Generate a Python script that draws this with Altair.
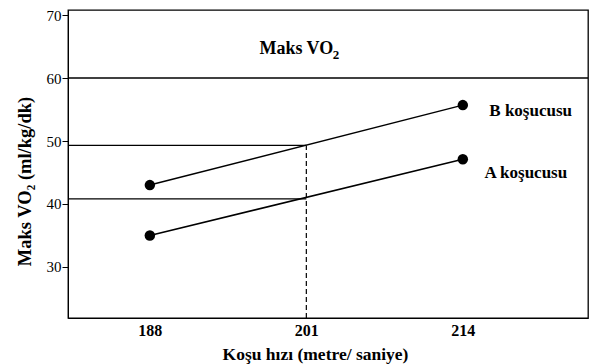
import altair as alt
import pandas as pd

# ---- data ----
speeds = [188, 214]
runner_a = [35.0, 47.1]
runner_b = [43.0, 55.7]
runner_names = ["A koşucusu", "B koşucusu"]
max_vo2_level = 60
crossing_speed = 201
crossing_vo2 = [40.8, 49.3]
x_ticks = [188, 201, 214]
y_ticks = [30, 40, 50, 60, 70]
x_domain = [181.2, 224.4]
y_domain = [21.9, 70.8]

FONT = "Liberation Serif"

pts = pd.DataFrame({
    "speed": speeds * 2,
    "vo2": runner_a + runner_b,
    "runner": [runner_names[0]] * 2 + [runner_names[1]] * 2,
})

X = alt.X("speed:Q", scale=alt.Scale(domain=x_domain, nice=False, zero=False),
          axis=alt.Axis(values=x_ticks, ticks=False, tickSize=0, grid=False,
                        labelFont=FONT, labelFontSize=16, labelFontWeight="bold",
                        labelColor="black", labelPadding=4, domainColor="black",
                        title="Koşu hızı (metre/ saniye)", titleFont=FONT,
                        titleFontSize=17.5, titleFontWeight="bold", titleColor="black",
                        titleX=247, titleY=36, titleBaseline="middle"))
Y = alt.Y("vo2:Q", scale=alt.Scale(domain=y_domain, nice=False, zero=False),
          axis=alt.Axis(values=y_ticks, grid=False, tickSize=6, tickColor="black",
                        labelFont=FONT, labelFontSize=15, labelColor="black",
                        labelPadding=1, domainColor="black",
                        title="Maks VO₂ (ml/kg/dk)", titleFont=FONT,
                        titleFontSize=18.5, titleFontWeight="bold", titleColor="black",
                        titleX=-44, titleY=171, titleBaseline="middle"))

lines = alt.Chart(pts).mark_line(color="black", strokeWidth=1.5).encode(
    x=X, y=Y, detail="runner:N")
dots = alt.Chart(pts).mark_circle(color="black", opacity=1, size=110).encode(
    x="speed:Q", y="vo2:Q")

top_rule = alt.Chart(pd.DataFrame({"v": [max_vo2_level]})).mark_rule(
    color="black", strokeWidth=1.3).encode(y="v:Q")

hrules_df = pd.DataFrame({
    "x0": [x_domain[0]] * 2,
    "x1": [crossing_speed] * 2,
    "v": crossing_vo2,
})
hrules = alt.Chart(hrules_df).mark_rule(color="black", strokeWidth=1.3).encode(
    x="x0:Q", x2="x1:Q", y="v:Q")

vrule_df = pd.DataFrame({"s": [crossing_speed], "y0": [y_domain[0]], "y1": [max(crossing_vo2)]})
vrule = alt.Chart(vrule_df).mark_rule(color="black", strokeWidth=1.2,
                                      strokeDash=[5, 3]).encode(
    x="s:Q", y="y0:Q", y2="y1:Q")

# "Maks VO" + subscript "2"
title_df = pd.DataFrame({"s": [197.1], "v": [64.6], "t": ["Maks VO"]})
title_txt = alt.Chart(title_df).mark_text(font=FONT, fontSize=18, fontWeight="bold",
                                          color="black", align="left",
                                          baseline="middle").encode(
    x="s:Q", y="v:Q", text="t:N")
sub_df = pd.DataFrame({"s": [203.2], "v": [63.7], "t": ["2"]})
sub_txt = alt.Chart(sub_df).mark_text(font=FONT, fontSize=13, fontWeight="bold",
                                      color="black", align="left",
                                      baseline="middle").encode(
    x="s:Q", y="v:Q", text="t:N")

lab_df = pd.DataFrame({"s": [215.8, 216.2], "v": [44.9, 54.8], "t": runner_names})
labels = alt.Chart(lab_df).mark_text(font=FONT, fontSize=17, fontWeight="bold",
                                     color="black", align="left",
                                     baseline="middle").encode(
    x="s:Q", y="v:Q", text="t:N")

chart = alt.layer(lines, top_rule, hrules, vrule, dots, title_txt, sub_txt, labels).properties(
    width=520, height=308,
    padding={"left": 60, "top": 2, "right": 9, "bottom": 46},
    autosize="none",
    background="white",
).configure_view(stroke="black", strokeWidth=1.3)

chart.save("out.html", embed_options={"renderer": "svg", "actions": False})
